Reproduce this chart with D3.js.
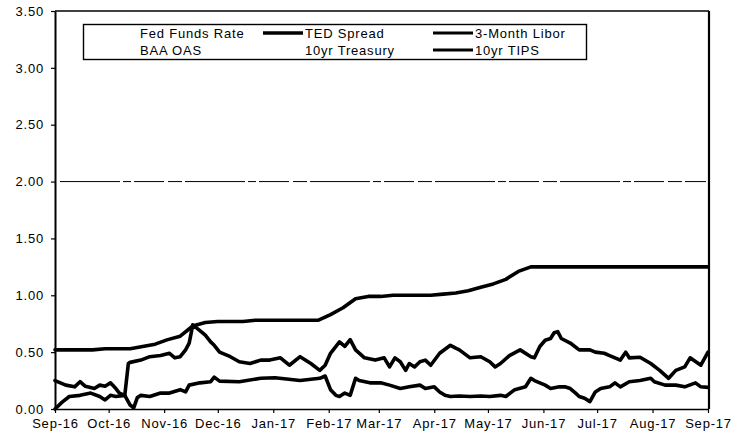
<!DOCTYPE html>
<html lang="en">
<head>
<meta charset="utf-8">
<title>Rates and spreads</title>
<style>
	body { margin: 0; background: #fff; }
	svg { display: block; font-family: "Liberation Sans", Arial, sans-serif; }
	.axis text { font-size: 13px; letter-spacing: 0.8px; fill: #000; }
	.legend text { font-size: 13px; letter-spacing: 0.8px; fill: #000; }
</style>
</head>
<body>
<svg></svg>
<script src="https://d3js.org/d3.v7.min.js"></script>
<script>
(function() {

	var width = 747,
		height = 436;

	var startDate = new Date(2016, 8, 1);
	var endDate = new Date(2017, 8, 1);

	// upper line: weekly readings from 1 Sep 2016
	var upperLine = [0.52, 0.52, 0.52, 0.52, 0.53, 0.53, 0.53, 0.55, 0.57, 0.61,
		0.64, 0.73, 0.76, 0.77, 0.77, 0.77, 0.78, 0.78, 0.78, 0.78,
		0.78, 0.78, 0.83, 0.89, 0.97, 0.99, 0.99, 1.00, 1.00, 1.00,
		1.00, 1.01, 1.02, 1.04, 1.07, 1.10, 1.14, 1.21, 1.25, 1.25,
		1.25, 1.25, 1.25, 1.25, 1.25, 1.25, 1.25, 1.25, 1.25, 1.25,
		1.25, 1.25, 1.25, 1.25];

	// middle line: days after 1 Sep 2016, and values
	var middleDays = [0, 4, 8, 14, 20, 25, 28, 31, 34, 39, 41, 42, 48, 53, 59, 64, 67, 70, 73, 75,
		77, 81, 84, 87, 89, 92, 98, 103, 109, 115, 120, 126, 131, 137, 143, 148, 151, 154, 159, 162,
		165, 168, 173, 179, 184, 187, 190, 193, 196, 198, 201, 204, 207, 210, 215, 221, 224, 226, 232, 238,
		243, 246, 249, 254, 260, 266, 268, 271, 274, 277, 279, 281, 283, 288, 293, 299, 302, 307, 310, 316,
		319, 321, 327, 333, 338, 343, 347, 352, 355, 361, 365];
	var middleVals = [0.00, 0.06, 0.11, 0.12, 0.14, 0.11, 0.08, 0.12, 0.11, 0.12, 0.40, 0.41, 0.43, 0.46, 0.47, 0.49, 0.45, 0.46, 0.52, 0.58,
		0.74, 0.69, 0.65, 0.59, 0.56, 0.50, 0.46, 0.415, 0.40, 0.43, 0.43, 0.45, 0.385, 0.46, 0.40, 0.34, 0.385, 0.49, 0.59, 0.55,
		0.61, 0.52, 0.45, 0.43, 0.45, 0.37, 0.45, 0.415, 0.34, 0.40, 0.37, 0.415, 0.43, 0.385, 0.49, 0.56, 0.535, 0.52, 0.45, 0.46,
		0.415, 0.37, 0.40, 0.47, 0.52, 0.46, 0.45, 0.55, 0.605, 0.62, 0.67, 0.68, 0.62, 0.58, 0.52, 0.52, 0.50, 0.49, 0.47, 0.43,
		0.50, 0.45, 0.455, 0.40, 0.34, 0.27, 0.34, 0.37, 0.45, 0.385, 0.50];

	// lower line: days after 1 Sep 2016, and values
	var lowerDays = [0, 6, 11, 14, 17, 22, 25, 28, 31, 34, 36, 39, 42, 44, 46, 48, 53, 59, 64, 70,
		73, 75, 81, 87, 89, 92, 103, 115, 123, 137, 148, 151, 154, 157, 159, 162, 165, 168, 170, 176,
		182, 187, 193, 198, 204, 207, 212, 215, 218, 221, 226, 232, 238, 243, 249, 252, 257, 263, 266, 268,
		274, 277, 282, 285, 288, 291, 293, 296, 299, 302, 305, 310, 313, 316, 321, 327, 333, 335, 341, 347,
		352, 358, 361, 365];
	var lowerVals = [0.25, 0.21, 0.195, 0.24, 0.20, 0.18, 0.21, 0.20, 0.23, 0.18, 0.14, 0.12, 0.035, 0.01, 0.10, 0.12, 0.11, 0.14, 0.14, 0.17,
		0.15, 0.21, 0.23, 0.24, 0.28, 0.245, 0.24, 0.27, 0.275, 0.25, 0.27, 0.29, 0.17, 0.12, 0.11, 0.14, 0.12, 0.27, 0.25, 0.23,
		0.23, 0.21, 0.18, 0.195, 0.21, 0.18, 0.195, 0.15, 0.12, 0.11, 0.115, 0.11, 0.115, 0.11, 0.12, 0.11, 0.17, 0.195, 0.27, 0.25,
		0.21, 0.18, 0.195, 0.195, 0.18, 0.14, 0.11, 0.095, 0.065, 0.15, 0.18, 0.195, 0.23, 0.195, 0.24, 0.25, 0.27, 0.24, 0.21, 0.21,
		0.195, 0.23, 0.195, 0.19];

	var refLevel = 2.00;

	var yTicks = [0, 0.5, 1, 1.5, 2, 2.5, 3, 3.5];

	var legendNames = ["Fed Funds Rate", "TED Spread", "3-Month Libor",
		"BAA OAS", "10yr Treasury", "10yr TIPS"];
	var legendSample = [false, true, true, false, false, true];

	function toSeries(days, vals) {
		return vals.map(function(v, i) {
			return { date: d3.timeDay.offset(startDate, days[i]), value: v };
		});
	}

	var upperDays = upperLine.map(function(d, i) { return Math.min(7 * i, 365); });

	var series = [
		toSeries(upperDays, upperLine),
		toSeries(middleDays, middleVals),
		toSeries(lowerDays, lowerVals)
	];

	var svg = d3.select("svg")
		.attr("width", width)
		.attr("height", height);

	svg.append("rect")
		.attr("width", width)
		.attr("height", height)
		.attr("fill", "#fff");

	var x = d3.scaleTime()
		.domain([startDate, endDate])
		.range([55, 708]);

	var y = d3.scaleLinear()
		.domain([0, 3.5])
		.range([409, 11]);

	// frame: thin top, heavy right
	svg.append("line")
		.attr("x1", x.range()[0]).attr("x2", x.range()[1] + 1)
		.attr("y1", y(3.5)).attr("y2", y(3.5))
		.attr("stroke", "#000")
		.attr("stroke-width", 1.3);

	svg.append("line")
		.attr("x1", x.range()[1] + 1).attr("x2", x.range()[1] + 1)
		.attr("y1", y(3.5)).attr("y2", y(0))
		.attr("stroke", "#000")
		.attr("stroke-width", 2.2);

	// level line at 2.00
	svg.append("line")
		.attr("x1", x.range()[0] + 5).attr("x2", x.range()[1] - 2)
		.attr("y1", y(refLevel)).attr("y2", y(refLevel))
		.attr("stroke", "#000")
		.attr("stroke-width", 1)
		.attr("stroke-dasharray", "60,3,8,3,30,4,14,3");

	// axes
	var xAxis = d3.axisBottom(x)
		.tickValues(d3.timeMonth.range(startDate, d3.timeDay.offset(endDate, 1)))
		.tickFormat(d3.timeFormat("%b-%y"))
		.tickSizeInner(4)
		.tickSizeOuter(0)
		.tickPadding(6);

	var gx = svg.append("g")
		.attr("class", "axis")
		.attr("transform", "translate(0," + y(0) + ")")
		.call(xAxis);
	gx.select(".domain").attr("stroke-width", 1.6);
	gx.selectAll(".tick line").attr("stroke-width", 1.2);

	var yAxis = d3.axisLeft(y)
		.tickValues(yTicks)
		.tickFormat(d3.format(".2f"))
		.tickSizeInner(4)
		.tickSizeOuter(0)
		.tickPadding(7);

	var gy = svg.append("g")
		.attr("class", "axis")
		.attr("transform", "translate(" + x.range()[0] + ",0)")
		.call(yAxis);
	gy.select(".domain").attr("stroke-width", 2);
	gy.selectAll(".tick line").attr("stroke-width", 1.2);

	// series
	var line = d3.line()
		.x(function(d) { return x(d.date); })
		.y(function(d) { return y(d.value); });

	series.forEach(function(s) {
		svg.append("path")
			.datum(s)
			.attr("fill", "none")
			.attr("stroke", "#000")
			.attr("stroke-width", 3.6)
			.attr("stroke-linejoin", "round")
			.attr("stroke-linecap", "round")
			.attr("d", line);
	});

	// legend
	var legend = svg.append("g").attr("class", "legend");

	legend.append("rect")
		.attr("x", 83.5).attr("y", 24.5)
		.attr("width", 503).attr("height", 35)
		.attr("fill", "#fff")
		.attr("stroke", "#000")
		.attr("stroke-width", 1.4);

	var colX = [98, 263, 433];
	var rowY = [33, 50];

	legendNames.forEach(function(name, i) {
		var cx = colX[i % 3],
			cy = rowY[Math.floor(i / 3)];
		if (legendSample[i]) {
			legend.append("line")
				.attr("x1", cx).attr("x2", cx + 40)
				.attr("y1", cy).attr("y2", cy)
				.attr("stroke", "#000")
				.attr("stroke-width", i == 1 ? 3.6 : 3);
		}
		legend.append("text")
			.attr("x", cx + 42)
			.attr("y", cy + 5)
			.text(name);
	});

})();
</script>
</body>
</html>
